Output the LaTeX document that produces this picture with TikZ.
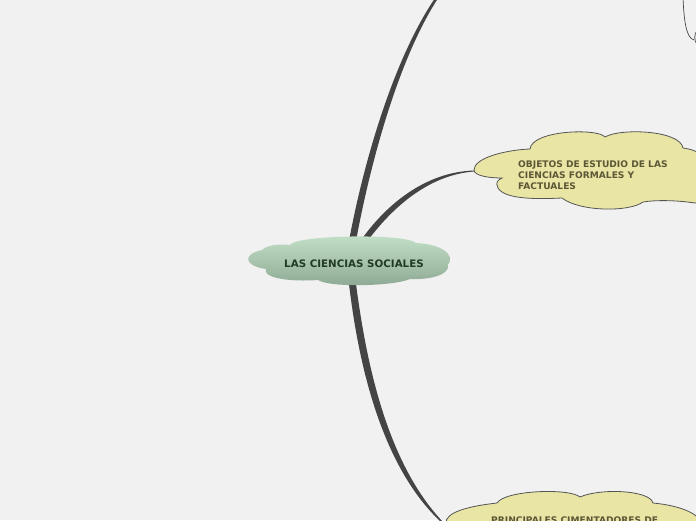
\documentclass[tikz,border=0pt]{standalone}
\usepackage{fontspec}
\newfontfamily\mapfont{DejaVu Sans}
\definecolor{paper}{HTML}{F1F1F1}
\definecolor{stem}{HTML}{444444}
\definecolor{rootlight}{HTML}{C4E1C9}
\definecolor{rootdark}{HTML}{8DA892}
\definecolor{roottext}{HTML}{213B27}
\definecolor{leaf}{HTML}{E9E5A5}
\definecolor{leafline}{HTML}{555555}
\definecolor{leaftext}{HTML}{5C5836}

\begin{document}
\begin{tikzpicture}[x=1pt,y=-1pt,
    roottxt/.style={font=\mapfont\bfseries\fontsize{10.3}{12}\selectfont, text=roottext, inner sep=0pt},
    leaftxt/.style={font=\mapfont\bfseries\fontsize{9.1}{11}\selectfont, text=leaftext, inner sep=0pt, align=left},
    leafcloud/.style={fill=leaf, draw=leafline, line width=0.8pt},
    stemfill/.style={fill=stem}]
    \fill[paper](0,0) rectangle (696,520);
    \useasboundingbox (0,0) rectangle (696,520);

    % ends of the branches
    \coordinate (upA) at (352.5,241);
    \coordinate (upB) at (438,-4);
    \coordinate (midA) at (362.5,243);
    \coordinate (midB) at (474,171);
    \coordinate (lowA) at (352.5,284);
    \coordinate (lowB) at (442,522);
    \coordinate (farA) at (683,-2);
    \coordinate (farB) at (694,40);

    % tapered branches
    \fill[stemfill]([xshift=-3.5pt]upA) .. controls (362,170) and (392,60) .. ([xshift=-1.5pt]upB) -- ([xshift=1.5pt]upB) .. controls (397,60) and (369,170) .. ([xshift=3.5pt]upA) -- cycle;
    \fill[stemfill]([xshift=-3.5pt]midA) .. controls (385,205) and (425,172) .. ([yshift=0.5pt]midB) -- ([yshift=-0.5pt]midB) .. controls (427,175) and (390,210) .. ([xshift=3.5pt]midA) -- cycle;
    \fill[stemfill]([xshift=-3.5pt]lowA) .. controls (358,360) and (380,465) .. ([xshift=-1pt]lowB) -- ([xshift=1pt]lowB) .. controls (386,462) and (366,360) .. ([xshift=3.5pt]lowA) -- cycle;
    \draw[stem, line width=0.7pt](farA) .. controls (684,20) and (686,38) .. (farB);

    % central cloud
    \shade[top color=rootlight, bottom color=rootdark]
      (262,250) .. controls (268,244) and (282,244) .. (290,245)
      .. controls (295,235) and (405,233) .. (416,243)
      .. controls (440,244) and (456,254) .. (448,265)
      .. controls (450,274) and (432,280) .. (410,279)
      .. controls (395,286) and (330,288) .. (318,280)
      .. controls (290,282) and (262,278) .. (266,269)
      .. controls (244,266) and (242,254) .. (262,250) -- cycle;
    \node[roottxt, anchor=base] (root) at (354,267.5) {LAS CIENCIAS SOCIALES};

    % middle cloud
    \draw[leafcloud]
      (474,170) .. controls (474,158) and (505,150) .. (530,149)
      .. controls (532,130) and (598,128) .. (605,137)
      .. controls (620,128) and (680,130) .. (683,148)
      .. controls (700,150) and (712,160) .. (712,175)
      .. controls (712,195) and (705,202) .. (695,203)
      .. controls (675,200) and (655,200) .. (643,202)
      .. controls (630,212) and (580,212) .. (562,198)
      .. controls (540,199) and (505,200) .. (498,188)
      .. controls (495,182) and (498,180) .. (502,178)
      .. controls (490,178) and (474,176) .. (474,170) -- cycle;
    \node[leaftxt, anchor=north west] (objetos) at (518,161) {OBJETOS DE ESTUDIO DE LAS\\CIENCIAS FORMALES Y\\FACTUALES};

    % lower cloud
    \draw[leafcloud]
      (446,524) .. controls (444,512) and (470,506) .. (497,503)
      .. controls (505,490) and (570,488) .. (580,497)
      .. controls (600,488) and (650,490) .. (653,503)
      .. controls (675,505) and (700,512) .. (702,525)
      -- (702,535) -- (446,535) -- cycle;
    \node[leaftxt, anchor=base west] (cimentadores) at (491,523) {PRINCIPALES CIMENTADORES DE};

    % edge of the far node
    \draw[leafline, line width=0.8pt](697,31) .. controls (694,33) and (694,42) .. (697,44);
\end{tikzpicture}
\end{document}
